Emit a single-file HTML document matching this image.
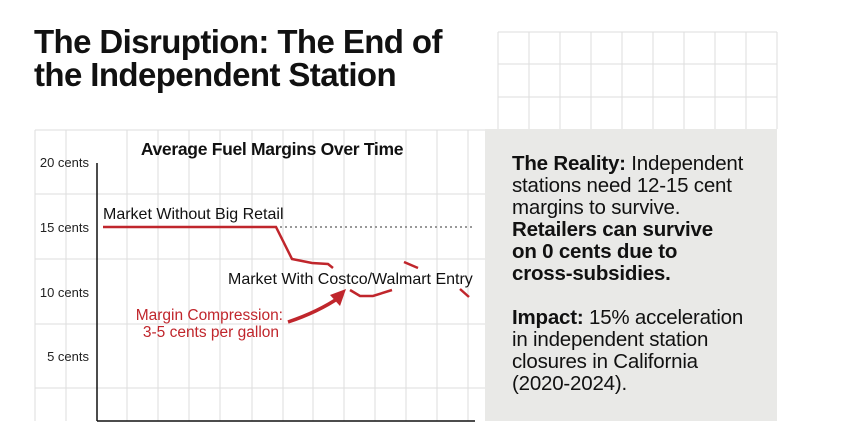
<!DOCTYPE html>
<html><head><style>
body{margin:0;width:847px;height:429px;background:#fff;overflow:hidden;position:relative;font-family:"Liberation Sans",sans-serif}
.t{position:absolute;left:34px;top:25px;font-size:33px;font-weight:bold;line-height:33px;color:#111;letter-spacing:-0.6px}
.p{position:absolute;left:485px;top:129px;width:292px;height:292px;background:#e9e9e7}
.tx{position:absolute;left:512px;top:153px;font-size:20.5px;line-height:22px;color:#111;letter-spacing:-0.2px}
</style></head><body>
<svg width="847" height="429" style="position:absolute;left:0;top:0">
<g stroke="#ddd" stroke-width="1">
<line x1="35" y1="130" x2="485" y2="130"/><line x1="35" y1="194" x2="485" y2="194"/><line x1="35" y1="259" x2="485" y2="259"/><line x1="35" y1="324" x2="485" y2="324"/><line x1="35" y1="388" x2="485" y2="388"/>
<line x1="35" y1="130" x2="35" y2="421"/><line x1="66" y1="130" x2="66" y2="421"/><line x1="127" y1="130" x2="127" y2="421"/><line x1="158" y1="130" x2="158" y2="421"/><line x1="189" y1="130" x2="189" y2="421"/><line x1="220" y1="130" x2="220" y2="421"/><line x1="252" y1="130" x2="252" y2="421"/><line x1="283" y1="130" x2="283" y2="421"/><line x1="313" y1="130" x2="313" y2="421"/><line x1="344" y1="130" x2="344" y2="421"/><line x1="375" y1="130" x2="375" y2="421"/><line x1="406" y1="130" x2="406" y2="421"/><line x1="437" y1="130" x2="437" y2="421"/><line x1="468" y1="130" x2="468" y2="421"/>
<line x1="498" y1="32" x2="777" y2="32"/><line x1="498" y1="64" x2="777" y2="64"/><line x1="498" y1="97" x2="777" y2="97"/>
<line x1="498" y1="32" x2="498" y2="129"/><line x1="529" y1="32" x2="529" y2="129"/><line x1="560" y1="32" x2="560" y2="129"/><line x1="591" y1="32" x2="591" y2="129"/><line x1="622" y1="32" x2="622" y2="129"/><line x1="653" y1="32" x2="653" y2="129"/><line x1="684" y1="32" x2="684" y2="129"/><line x1="715" y1="32" x2="715" y2="129"/><line x1="746" y1="32" x2="746" y2="129"/><line x1="777" y1="32" x2="777" y2="129"/>
</g>
<line x1="97" y1="163" x2="97" y2="421" stroke="#111" stroke-width="1.5"/>
<line x1="97" y1="421" x2="475" y2="421" stroke="#111" stroke-width="1.5"/>
<line x1="280" y1="227" x2="472" y2="227" stroke="#999" stroke-width="2" stroke-dasharray="2,3"/>
<g fill="none" stroke="#c0262c" stroke-width="2.5">
<polyline points="103,227 276,227 292,259 312,263 328,264 333,268"/>
<polyline points="350,290 360,296 373,296 392,290"/>
<polyline points="404,262 418,268"/>
<polyline points="460,289 469,297"/>
<path d="M288,322 Q318,312 340,297" stroke-width="3.5"/>
</g>
<polygon points="346,289 330,295 340,306" fill="#c0262c"/>
<g font-size="13" fill="#222" text-anchor="end" font-family="Liberation Sans,sans-serif">
<text x="89" y="167">20 cents</text><text x="89" y="232">15 cents</text><text x="89" y="297">10 cents</text><text x="89" y="361">5 cents</text>
</g>
<text x="272" y="155" font-size="17.5" font-weight="bold" text-anchor="middle" fill="#111" letter-spacing="-0.3">Average Fuel Margins Over Time</text>
<text x="103" y="219" font-size="16" fill="#111">Market Without Big Retail</text>
<text x="228" y="284" font-size="16" fill="#111">Market With Costco/Walmart Entry</text>
<text x="283" y="320" font-size="15.5" fill="#c0262c" text-anchor="end">Margin Compression:</text>
<text x="279" y="337" font-size="15.5" fill="#c0262c" text-anchor="end">3-5 cents per gallon</text>
</svg>
<div class="t">The Disruption: The End of<br>the Independent Station</div>
<div class="p"></div>
<div class="tx"><b>The Reality:</b> Independent<br>stations need 12-15 cent<br>margins to survive.<br><b>Retailers can survive<br>on 0 cents due to<br>cross-subsidies.</b><br><br><b>Impact:</b> 15% acceleration<br>in independent station<br>closures in California<br>(2020-2024).</div>
</body></html>
